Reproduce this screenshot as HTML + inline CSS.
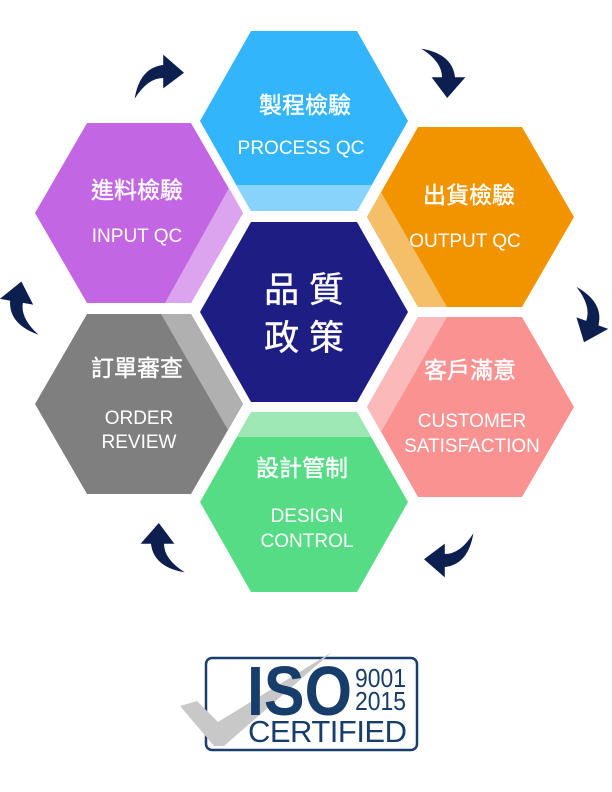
<!DOCTYPE html>
<html><head><meta charset="utf-8"><style>
html,body{margin:0;padding:0;background:#fff;}
svg{display:block;}
.zh{font-family:"Liberation Sans","Noto Sans CJK TC",sans-serif;font-weight:normal;fill:#fff;stroke:#fff;stroke-width:0.4;}
.en{font-family:"Liberation Sans","Noto Sans CJK TC",sans-serif;fill:#fff;font-size:19px;}
</style></head><body>
<svg width="612" height="792" viewBox="0 0 612 792" xmlns="http://www.w3.org/2000/svg">
<defs>
<path id="arr" d="M-18,16 Q-14,-8 4,-10 L4,-18 L20,-4 L4,8 L4,0 Q-8,0 -18,16 Z" fill="#0d1f4f"/>
</defs>
<!-- blue -->
<polygon points="251,31 357,31 408,121 357,211 251,211 200,121" fill="#33b5fc"/>
<polygon points="236,185 372,185 357,211 251,211" fill="#88d3fb"/>
<!-- purple -->
<polygon points="87,123 191,123 243,213 191,303 87,303 35,213" fill="#c366e4"/>
<polygon points="229,188 243,213 191,303 165,303" fill="#dca3ee"/>
<!-- orange -->
<polygon points="418,127 522,127 574,217 522,307 418,307 367,217" fill="#f29400"/>
<polygon points="381,192 367,217 418,307 447,307" fill="#f5be68"/>
<!-- navy -->
<polygon points="251,222 357,222 408,312 357,402 251,402 200,312" fill="#1e1d84"/>
<!-- gray -->
<polygon points="87,314 191,314 243,404 191,494 87,494 35,404" fill="#7f7f7f"/>
<polygon points="161,314 191,314 243,404 228,430" fill="#b0b0b0"/>
<!-- pink -->
<polygon points="418,317 522,317 574,407 522,497 418,497 367,407" fill="#fb9292"/>
<polygon points="418,317 447,317 381,432 367,407" fill="#fbb9b9"/>
<!-- green -->
<polygon points="251,412 357,412 408,502 357,592 251,592 200,502" fill="#55dc84"/>
<polygon points="251,412 357,412 371,437 237,437" fill="#9de8b5"/>

<!-- text -->
<text class="zh" x="305" y="113" font-size="23" text-anchor="middle">製程檢驗</text>
<text class="en" x="301" y="154" text-anchor="middle">PROCESS QC</text>
<text class="zh" x="137" y="198" font-size="23" text-anchor="middle">進料檢驗</text>
<text class="en" x="137" y="242" text-anchor="middle">INPUT QC</text>
<text class="zh" x="469" y="203" font-size="23" text-anchor="middle">出貨檢驗</text>
<text class="en" x="465" y="247" text-anchor="middle">OUTPUT QC</text>
<text class="zh" x="304" y="302" font-size="35" text-anchor="middle">品 質</text>
<text class="zh" x="304" y="350" font-size="35" text-anchor="middle">政 策</text>
<text class="zh" x="137" y="376" font-size="23" text-anchor="middle">訂單審查</text>
<text class="en" x="139" y="424" text-anchor="middle">ORDER</text>
<text class="en" x="139" y="448" text-anchor="middle">REVIEW</text>
<text class="zh" x="470" y="378" font-size="23" text-anchor="middle">客戶滿意</text>
<text class="en" x="472" y="427" text-anchor="middle">CUSTOMER</text>
<text class="en" x="472" y="452" text-anchor="middle">SATISFACTION</text>
<text class="zh" x="302" y="476" font-size="23" text-anchor="middle">設計管制</text>
<text class="en" x="307" y="522" text-anchor="middle">DESIGN</text>
<text class="en" x="307" y="547" text-anchor="middle">CONTROL</text>

<!-- arrows -->
<use href="#arr" transform="translate(158,78) scale(1.3)"/>
<use href="#arr" transform="translate(442,72) rotate(90) scale(1.3)"/>
<use href="#arr" transform="translate(588,316) rotate(110) scale(1.3)"/>
<use href="#arr" transform="translate(450,554) rotate(180) scale(1.3)"/>
<use href="#arr" transform="translate(164,549) rotate(-90) scale(1.3)"/>
<use href="#arr" transform="translate(22,308) rotate(-80) scale(1.3)"/>

<!-- ISO logo -->
<rect x="206" y="658" width="211" height="92" rx="6" fill="#fff" stroke="#1a3d6b" stroke-width="2.5"/>
<polygon points="180,706 197,701 218,722 332,652 224,746 214,746" fill="#c8c8c8"/>
<text x="247" y="715" font-family="Liberation Sans,sans-serif" font-weight="bold" font-size="70" fill="#173d6b" textLength="105" lengthAdjust="spacingAndGlyphs">ISO</text>
<text x="355" y="687" font-family="Liberation Sans,sans-serif" font-size="26" fill="#173d6b" textLength="51" lengthAdjust="spacingAndGlyphs">9001</text>
<text x="355" y="710" font-family="Liberation Sans,sans-serif" font-size="26" fill="#173d6b" textLength="51" lengthAdjust="spacingAndGlyphs">2015</text>
<text x="248" y="742" font-family="Liberation Sans,sans-serif" font-size="31" fill="#173d6b" textLength="159" lengthAdjust="spacing">CERTIFIED</text>
</svg>
</body></html>
